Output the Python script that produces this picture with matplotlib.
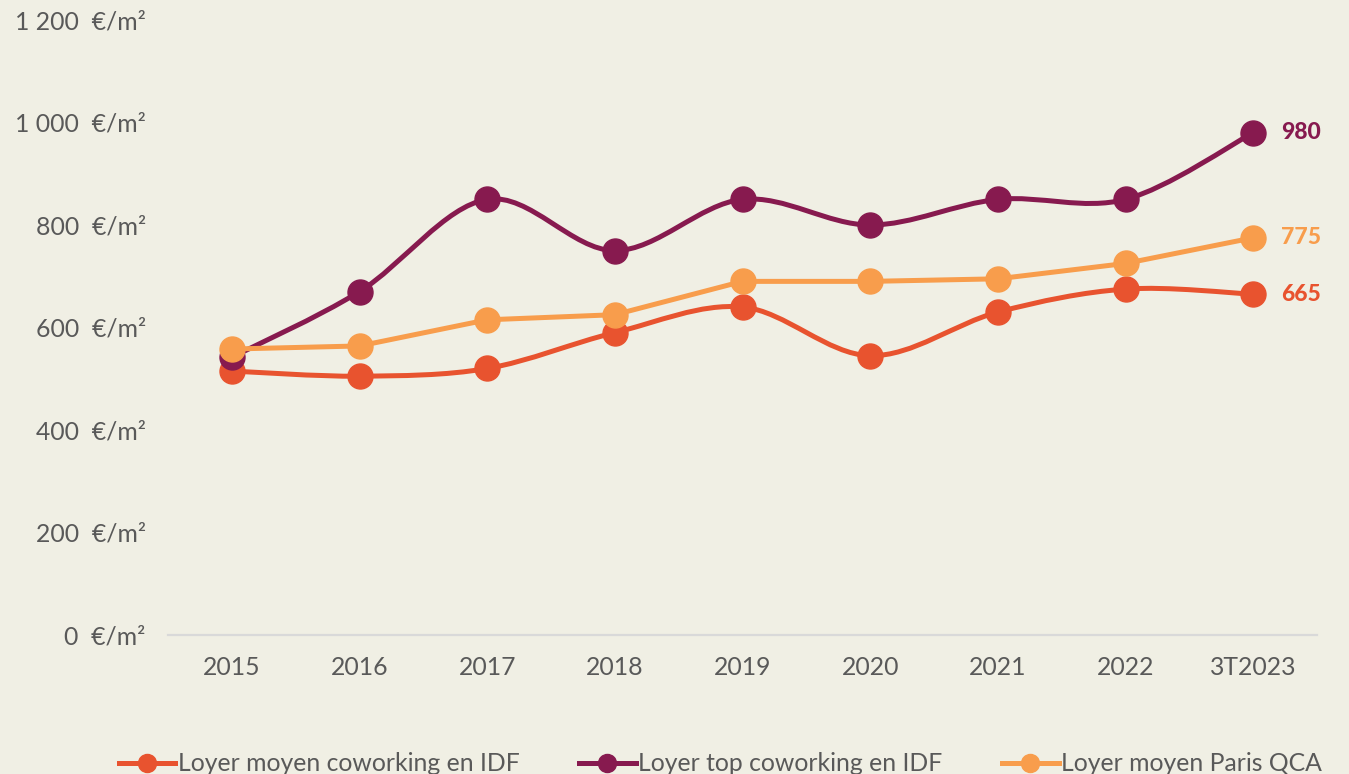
import matplotlib
matplotlib.use("Agg")
import matplotlib.pyplot as plt
from matplotlib.path import Path
from matplotlib.patches import PathPatch
from matplotlib.lines import Line2D
from matplotlib.ticker import FuncFormatter

categories = ["2015", "2016", "2017", "2018", "2019", "2020", "2021", "2022", "3T2023"]
moyen_cowork = [515, 505, 520, 590, 640, 545, 630, 675, 665]
top_cowork = [542, 670, 850, 750, 850, 800, 850, 850, 980]
paris_qca = [558, 564, 615, 625, 690, 690, 695, 725, 775]
series_names = ["Loyer moyen coworking en IDF", "Loyer top coworking en IDF", "Loyer moyen Paris QCA"]

BG = "#F0EFE4"
C_RED = "#E8532F"
C_PURPLE = "#871A4F"
C_ORANGE = "#F89D4C"
TXT = "#595959"

plt.rcParams['font.family'] = ['Lato', 'DejaVu Sans']

fig = plt.figure(figsize=(13.49, 7.74), dpi=100, facecolor=BG)
ax = fig.add_axes([168/1349, (774-635)/774, (1317-168)/1349, 615/774])
ax.set_facecolor(BG)

x = list(range(len(categories)))


def smooth_path(xs, ys):
    verts = [(xs[0], ys[0])]
    codes = [Path.MOVETO]
    n = len(xs)
    for i in range(n - 1):
        p0 = (xs[max(i - 1, 0)], ys[max(i - 1, 0)])
        p1 = (xs[i], ys[i])
        p2 = (xs[i + 1], ys[i + 1])
        p3 = (xs[min(i + 2, n - 1)], ys[min(i + 2, n - 1)])
        c1 = (p1[0] + (p2[0] - p0[0]) / 6, p1[1] + (p2[1] - p0[1]) / 6)
        c2 = (p2[0] - (p3[0] - p1[0]) / 6, p2[1] - (p3[1] - p1[1]) / 6)
        verts += [c1, c2, p2]
        codes += [Path.CURVE4] * 3
    return Path(verts, codes)


LW = 3.6
MS = 18

# red (smooth)
ax.add_patch(PathPatch(smooth_path(x, moyen_cowork), fill=False, edgecolor=C_RED, lw=LW,
                       capstyle='round', joinstyle='round', zorder=2))
ax.plot(x, moyen_cowork, linestyle='none', marker='o', ms=MS, color=C_RED, zorder=3)
# purple (smooth)
ax.add_patch(PathPatch(smooth_path(x, top_cowork), fill=False, edgecolor=C_PURPLE, lw=LW,
                       capstyle='round', joinstyle='round', zorder=4))
ax.plot(x, top_cowork, linestyle='none', marker='o', ms=MS, color=C_PURPLE, zorder=5)
# orange (straight)
ax.plot(x, paris_qca, '-', lw=LW, color=C_ORANGE, marker='o', ms=MS, zorder=6,
        solid_capstyle='round', solid_joinstyle='round')

# end labels
last = len(categories) - 1
for vals, col in [(top_cowork, C_PURPLE), (paris_qca, C_ORANGE), (moyen_cowork, C_RED)]:
    ax.annotate(f"{vals[last]}", xy=(last, vals[last]), xytext=(20, 0), textcoords='offset points',
                ha='left', va='center', fontsize=16.5, fontweight='black', color=col)

ax.set_xlim(-0.5, 8.5)
ax.set_ylim(0, 1200)
ax.set_yticks(range(0, 1201, 200))
ax.yaxis.set_major_formatter(FuncFormatter(lambda v, p: f"{int(v):,}".replace(",", " ") + "  €/m²"))
ax.set_xticks(x)
ax.set_xticklabels(categories)

for s in ['top', 'right', 'left']:
    ax.spines[s].set_visible(False)
ax.spines['bottom'].set_color('#D9D9D9')
ax.spines['bottom'].set_linewidth(1.6)
ax.tick_params(axis='both', length=0, labelsize=17.8, labelcolor=TXT)
ax.tick_params(axis='y', pad=16)
ax.tick_params(axis='x', pad=15)

handles = [Line2D([], [], color=c, lw=3.6, marker='o', ms=13) for c in (C_RED, C_PURPLE, C_ORANGE)]
leg = fig.legend(handles, series_names, loc='center', bbox_to_anchor=(0.534, 0.013), ncol=3,
                 frameon=False, fontsize=17.8, handlelength=2.3, handletextpad=0.1,
                 columnspacing=2.4, labelcolor=TXT)

fig.savefig("out.png", dpi=100, facecolor=BG)
